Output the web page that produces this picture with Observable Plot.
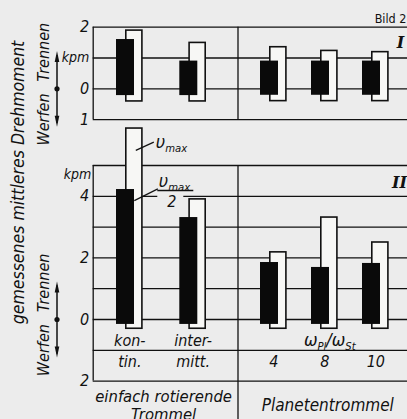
<!DOCTYPE html>
<html><head><meta charset="utf-8">
<script src="https://cdn.jsdelivr.net/npm/d3@7"></script>
<script src="https://cdn.jsdelivr.net/npm/@observablehq/plot@0.6"></script>
<style>
html,body{margin:0;padding:0;background:#ececec;}
#chart{width:407px;height:419px;overflow:hidden;}
</style></head><body><div id="chart"></div>
<script>
// ---------- data (kpm) ----------
const categories = ["kontin", "intermitt", "4", "8", "10"];
const groupOf = [0, 0, 1, 1, 1];
const catLine1 = ["kon-", "inter-", "", "", ""];
const catLine2 = ["tin.", "mitt.", "4", "8", "10"];
const groupLabels = ["einfach rotierende\nTrommel", "Planetentrommel"];
// panel I : v_max/2 (black) and v_max (white)
const halfTrennenI = [1.60, 0.90, 0.90, 0.90, 0.90];
const halfWerfenI  = [0.22, 0.22, 0.21, 0.21, 0.21];
const maxTrennenI  = [1.89, 1.49, 1.35, 1.23, 1.19];
const maxWerfenI   = [0.41, 0.41, 0.40, 0.40, 0.40];
// panel II
const halfTrennenII = [4.22, 3.31, 1.85, 1.69, 1.82];
const halfWerfenII  = [0.16, 0.16, 0.16, 0.16, 0.16];
const maxTrennenII  = [6.20, 3.90, 2.18, 3.31, 2.50];
const maxWerfenII   = [0.30, 0.30, 0.30, 0.30, 0.30];
// axes
const ticksI = [2, 1, 0, -1];
const tickLabelsI = ["2", "kpm", "0", "1"];
const ticksII = [5, 4, 3, 2, 1, 0, -1, -2];
const tickLabelsII = ["", "4", "", "2", "", "0", "", "2"];

// ---------- layout ----------
const W = 407, H = 419;
const PX = 30.8;              // px per kpm
const ZERO_II = 319;          // pixel row of panel II zero
const OFF_I = 7.49;           // panel I zero, in kpm above panel II zero
const Y_MIN = -(H - ZERO_II) / PX, Y_MAX = ZERO_II / PX;
const panelLeft = 92.7, divider = 237.5;
const groupStart = [panelLeft + 36.6, divider + 35.8];
const groupStep = [63.3, 51];
const centers = categories.map((c, i) => {
  const g = groupOf[i];
  const k = groupOf.slice(0, i).filter(v => v === g).length;
  return groupStart[g] + k * groupStep[g];
});
const FONT = '"DejaVu Sans Condensed","Liberation Sans Narrow","DejaVu Sans",sans-serif';
const bg = "#ececec", ink = "#111";

const bars = [];
categories.forEach((c, i) => {
  bars.push({panel: "I", s: "max", c: centers[i], lo: -maxWerfenI[i] + OFF_I, hi: maxTrennenI[i] + OFF_I});
  bars.push({panel: "I", s: "half", c: centers[i], lo: -halfWerfenI[i] + OFF_I, hi: halfTrennenI[i] + OFF_I});
  bars.push({panel: "II", s: "max", c: centers[i], lo: -maxWerfenII[i], hi: maxTrennenII[i]});
  bars.push({panel: "II", s: "half", c: centers[i], lo: -halfWerfenII[i], hi: halfTrennenII[i]});
});
const whiteBars = bars.filter(d => d.s === "max");
const blackBars = bars.filter(d => d.s === "half");

const arrowHead = {draw(ctx) { ctx.moveTo(0, 0); ctx.lineTo(-2.3, 11); ctx.lineTo(2.3, 11); ctx.closePath(); }};
const zeros = [OFF_I, 0];
const c0 = centers[0];

const txt = (data, o) => Plot.text(data, {fontFamily: FONT, fontStyle: "italic", fill: ink, ...o});

const plot = Plot.plot({
  width: W, height: H, margin: 0,
  x: {type: "linear", domain: [0, W], axis: null},
  y: {type: "linear", domain: [Y_MIN, Y_MAX], axis: null},
  style: {background: bg, overflow: "visible"},
  marks: [
    // grid lines
    Plot.ruleY(ticksI.map(v => v + OFF_I), {x1: panelLeft, x2: W, stroke: ink, strokeWidth: 1.3}),
    Plot.ruleY(ticksII, {x1: panelLeft, x2: W, stroke: ink, strokeWidth: 1.3}),
    // frame verticals
    Plot.ruleX([panelLeft], {y1: ticksI[3] + OFF_I, y2: ticksI[0] + OFF_I, stroke: ink, strokeWidth: 1.3}),
    Plot.ruleX([divider], {y1: ticksI[3] + OFF_I, y2: ticksI[0] + OFF_I, stroke: ink, strokeWidth: 1.3}),
    Plot.ruleX([panelLeft], {y1: ticksII[7], y2: ticksII[0], stroke: ink, strokeWidth: 1.3}),
    Plot.ruleX([divider], {y1: Y_MIN, y2: ticksII[0], stroke: ink, strokeWidth: 1.3}),
    // bars
    Plot.rect(whiteBars, {x1: d => d.c - 3.5, x2: d => d.c + 12.6, y1: "lo", y2: "hi", fill: "#f7f7f5", stroke: ink, strokeWidth: 1.6}),
    Plot.rect(blackBars, {x1: d => d.c - 13.3, x2: d => d.c + 4.7, y1: "lo", y2: "hi", fill: "#0a0a0a"}),
    // gap in grid line under the fraction
    Plot.ruleY([4], {x1: c0 + 28, x2: c0 + 54, stroke: bg, strokeWidth: 4}),
    // tick labels
    txt(ticksI.map((v, i) => ({y: v + OFF_I, t: tickLabelsI[i]})), {x: panelLeft - 4, y: "y", text: "t", textAnchor: "end", fontSize: d => d.t === "kpm" ? 14 : 16}),
    txt(ticksII.map((v, i) => ({y: v, t: tickLabelsII[i]})), {x: panelLeft - 4, y: "y", text: "t", textAnchor: "end", fontSize: 16}),
    txt(["kpm"], {x: panelLeft - 2, y: 4.7, textAnchor: "end", fontSize: 14}),
    // Werfen / Trennen with arrows
    txt(zeros.map(z => ({y: z + 0.24})), {x: 43, y: "y", text: () => "Trennen", rotate: -90, textAnchor: "start", fontSize: 16}),
    txt(zeros.map(z => ({y: z - 0.15})), {x: 43, y: "y", text: () => "Werfen", rotate: -90, textAnchor: "end", fontSize: 16}),
    Plot.link(zeros, {x1: 56.5, x2: 56.5, y1: z => z - 1.1, y2: z => z + 1.1, stroke: ink, strokeWidth: 1.5}),
    Plot.dot(zeros, {x: 56.5, y: z => z + 1.23, symbol: arrowHead, fill: ink, stroke: "none"}),
    Plot.dot(zeros, {x: 56.5, y: z => z - 1.23, symbol: arrowHead, rotate: 180, fill: ink, stroke: "none"}),
    Plot.dot(zeros, {x: 56.5, y: z => z, r: 2.6, fill: ink, stroke: "none"}),
    // main axis title
    txt(["gemessenes mittleres Drehmoment"], {x: 18, y: (ZERO_II - 182) / PX, rotate: -90, fontSize: 17.5}),
    // annotations
    Plot.link([0], {x1: c0 + 6, x2: c0 + 24, y1: 5.49, y2: 5.76, stroke: ink, strokeWidth: 1.2}),
    txt(["υ_{max}"], {x: c0 + 26, y: 5.75, textAnchor: "start", fontSize: 18}),
    Plot.link([0], {x1: c0 + 4.5, x2: c0 + 28, y1: 3.86, y2: 4.24, stroke: ink, strokeWidth: 1.2}),
    txt(["υ_{max}"], {x: c0 + 29, y: 4.5, textAnchor: "start", fontSize: 18}),
    Plot.ruleY([4.19], {x1: c0 + 28, x2: c0 + 64, stroke: ink, strokeWidth: 1.4}),
    txt(["2"], {x: c0 + 42, y: 3.82, fontSize: 16}),
    // panel numbers
    Plot.text(["I"], {x: 400, y: OFF_I + 1.5, fontFamily: '"DejaVu Serif",serif', fontStyle: "italic", fontWeight: "bold", fontSize: 16, fill: ink}),
    Plot.text(["II"], {x: 399, y: (ZERO_II - 182) / PX, fontFamily: '"DejaVu Serif",serif', fontStyle: "italic", fontWeight: "bold", fontSize: 16, fill: ink}),
    Plot.text(["Bild 2"], {x: W - 1, y: OFF_I + 2.27, textAnchor: "end", fontFamily: FONT, fontSize: 12.5, fill: ink}),
    // category labels
    txt(categories.map((c, i) => ({x: centers[i], t: catLine1[i]})).filter(d => d.t), {x: "x", y: -0.68, text: "t", fontSize: 16}),
    txt(categories.map((c, i) => ({x: centers[i], t: catLine2[i]})), {x: "x", y: -1.38, text: "t", fontSize: 16}),
    txt(["ω_{Pl}/ω_{St}"], {x: (centers[2] + centers[4]) / 2 + 5, y: -0.67, fontSize: 18}),
    // group labels
    txt([0], {x: (panelLeft + divider) / 2 - 2, y: -2.77, text: () => groupLabels[0], fontSize: 16.5, lineHeight: 1.12}),
    txt([0], {x: (centers[2] + centers[4]) / 2 + 3, y: -2.78, text: () => groupLabels[1], fontSize: 17})
  ]
});

// subscripts: "a_{b}" -> tspans
d3.select(plot).selectAll("text").each(function () {
  const s = this.textContent;
  if (!s.includes("_{")) return;
  const fs = parseFloat(getComputedStyle(this).fontSize) || parseFloat(this.getAttribute("font-size")) || 16;
  const sh = Math.round(fs * 0.28);
  this.textContent = "";
  let shifted = false;
  s.split(/(_\{[^}]*\})/).forEach(p => {
    if (!p) return;
    const ts = document.createElementNS("http://www.w3.org/2000/svg", "tspan");
    if (p.startsWith("_{")) {
      ts.textContent = p.slice(2, -1);
      ts.setAttribute("font-size", (fs * 0.7).toFixed(1));
      ts.setAttribute("dy", sh);
      shifted = true;
    } else {
      ts.textContent = p;
      if (shifted) { ts.setAttribute("dy", -sh); shifted = false; }
    }
    this.appendChild(ts);
  });
});

document.getElementById("chart").appendChild(plot);
</script>
</body></html>
